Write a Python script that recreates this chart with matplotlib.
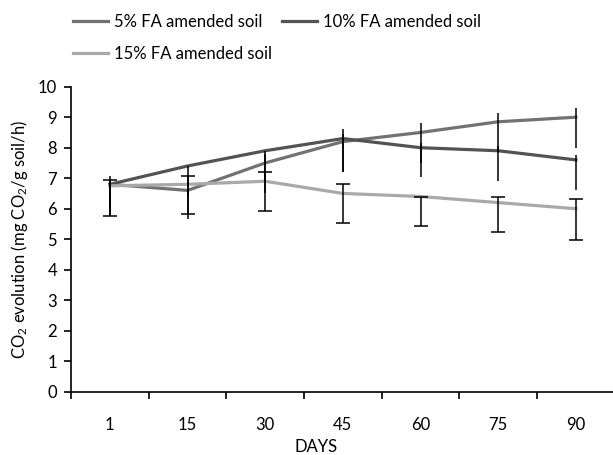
import numpy as np
import matplotlib
matplotlib.use('Agg')
import matplotlib.pyplot as plt

plt.rcParams['font.family'] = ['Lato', 'DejaVu Sans']
plt.rcParams['mathtext.fontset'] = 'custom'
plt.rcParams['mathtext.rm'] = 'Lato'
plt.rcParams['mathtext.it'] = 'Lato:italic'

days = ['1', '15', '30', '45', '60', '75', '90']

fa5 = [6.8, 6.6, 7.5, 8.2, 8.5, 8.85, 9.0]
fa5_lo = [1.0, 0.94, 1.0, 1.0, 1.0, 1.0, 1.02]
fa5_hi = [0.28, 0.3, 0.3, 0.4, 0.3, 0.28, 0.29]

fa10 = [6.8, 7.4, 7.9, 8.3, 8.0, 7.9, 7.6]
fa10_lo = [1.0, 1.0, 1.0, 1.09, 0.95, 1.0, 0.99]
fa10_hi = [0.0, 0.0, 0.0, 0.15, 0.15, 0.15, 0.16]

fa15 = [6.75, 6.8, 6.9, 6.5, 6.4, 6.2, 6.0]
fa15_lo = [0.98, 0.98, 0.98, 0.97, 0.97, 0.96, 1.03]
fa15_hi = [0.2, 0.28, 0.29, 0.31, 0.0, 0.19, 0.32]

W, H = 613, 455
fig = plt.figure(figsize=(W / 100, H / 100), dpi=100)
ax = fig.add_axes([71 / W, 1 - 391.7 / H, 543.7 / W, 305 / H])

x = np.arange(len(days))

l5, = ax.plot(x, fa5, color='#727272', lw=2.3, zorder=3)
l10, = ax.plot(x, fa10, color='#535353', lw=2.3, zorder=3)
l15, = ax.plot(x, fa15, color='#a9a9a9', lw=2.3, zorder=3)

ax.errorbar(x, fa5, yerr=[fa5_lo, fa5_hi], fmt='none', ecolor='black', elinewidth=1.1, capsize=0, zorder=4)
ax.errorbar(x, fa10, yerr=[fa10_lo, fa10_hi], fmt='none', ecolor='black', elinewidth=1.1, capsize=0, zorder=4)
ax.errorbar(x, fa15, yerr=[fa15_lo, fa15_hi], fmt='none', ecolor='black', elinewidth=1.1, capsize=5, capthick=1.1, zorder=4)

ax.set_xlim(-0.5, len(days) - 0.5)
ax.set_ylim(0, 10)
ax.set_yticks(np.arange(0, 11, 1))
ax.set_xticks(x)
ax.set_xticklabels(days)
ax.set_xticks(np.arange(-0.5, len(days) - 0.5, 1), minor=True)

ax.spines['top'].set_visible(False)
ax.spines['right'].set_visible(False)
for s in ['left', 'bottom']:
    ax.spines[s].set_linewidth(1.2)

ax.tick_params(axis='x', which='major', length=0, pad=18, labelsize=12)
ax.tick_params(axis='x', which='minor', direction='out', length=5, width=1.2)
ax.tick_params(axis='y', direction='out', length=5, width=1.2, pad=5, labelsize=12)

ax.set_ylabel(r'CO$_2$ evolution (mg CO$_2$/g soil/h)', fontsize=12, labelpad=6)
fig.text(316 / W, 1 - 447 / H, 'DAYS', ha='center', va='center', fontsize=12)

fig.legend([l5, l15, l10], ['5% FA amended soil', '15% FA amended soil', '10% FA amended soil'],
           ncol=2, loc='upper left', bbox_to_anchor=(73 / W, 1 - 14 / H), frameon=False,
           borderpad=0, borderaxespad=0,
           fontsize=12, handlelength=2.1, handletextpad=0.35, columnspacing=0.6, labelspacing=0.95)

fig.savefig('out.png', dpi=100)
